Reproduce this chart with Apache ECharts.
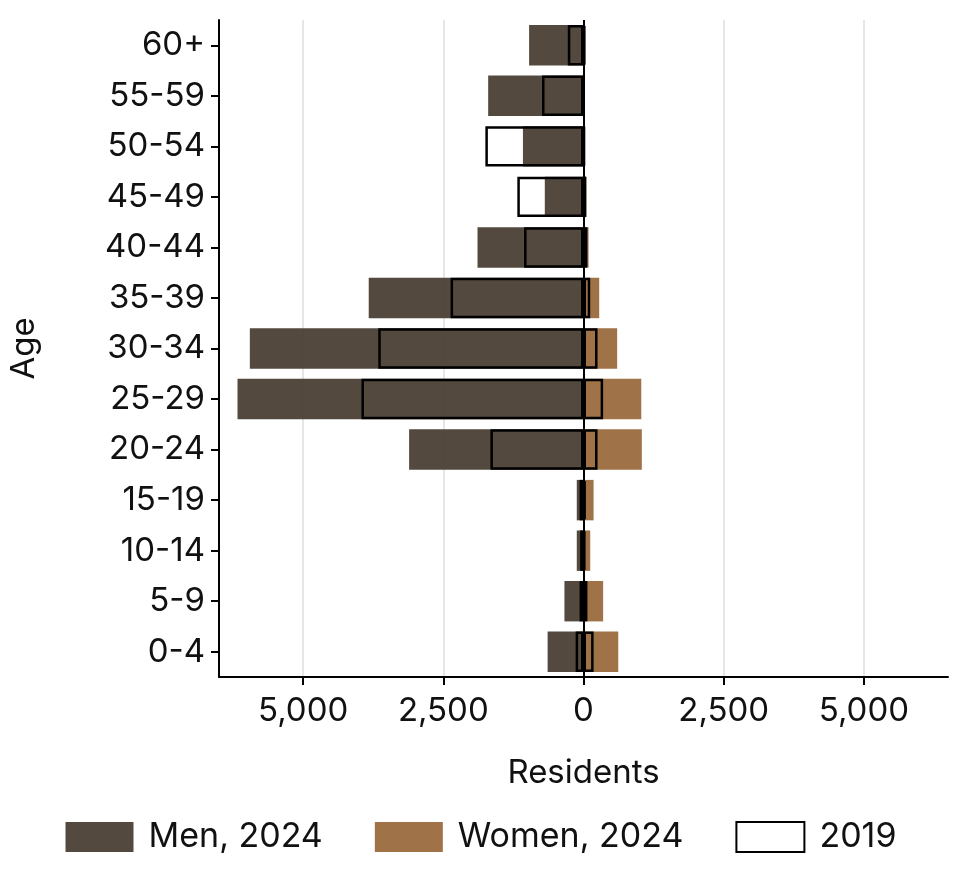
<!DOCTYPE html>
<html><head><meta charset="utf-8">
<script src="https://cdn.jsdelivr.net/npm/echarts@6/dist/echarts.min.js"></script>
<style>html,body{margin:0;padding:0;background:#fff}#c{width:962px;height:873px}</style>
</head><body><div id="c"></div>
<script>
const ages = ['0-4','5-9','10-14','15-19','20-24','25-29','30-34','35-39','40-44','45-49','50-54','55-59','60+'];
const men2024 = [640,340,120,120,3110,6170,5950,3830,1890,690,1080,1700,970];
const women2024 = [620,350,120,180,1040,1030,600,280,90,50,10,5,20];
const men2019 = [140,70,60,70,1660,3960,3660,2370,1060,1180,1750,740,280];
const women2019 = [180,70,30,40,250,350,250,120,70,50,20,10,30];
const ticks = [-5000,-2500,0,2500,5000];
const F = 'Inter, "Noto Sans", sans-serif';
const chart = echarts.init(document.getElementById('c'));
const fmt = v => Math.abs(v).toLocaleString('en-US');
chart.setOption({
  animation:false,
  grid:{left:213,right:14,top:20,bottom:196,containLabel:false},
  legend:{bottom:14,left:'center',itemWidth:68,itemHeight:30,itemGap:52,icon:'rect',
    textStyle:{fontFamily:F,fontSize:34,color:'#111',padding:[0,0,0,10]},
    data:[{name:'Men, 2024'},{name:'Women, 2024'},{name:'2019',itemStyle:{color:'#fff',borderColor:'#000',borderWidth:2}}]},
  xAxis:{type:'value',min:-6500,max:6500,interval:2500,
    name:'Residents',nameLocation:'middle',nameGap:80,nameTextStyle:{fontFamily:F,fontSize:33,color:'#111'},
    axisLine:{show:true,onZero:false,lineStyle:{color:'#000',width:2}},
    axisTick:{show:true,length:8,lineStyle:{color:'#000',width:2},customValues:ticks},
    axisLabel:{fontFamily:F,fontSize:33,color:'#111',margin:18,formatter:fmt,customValues:ticks},
    splitLine:{show:true,lineStyle:{color:'#e6e6e6',width:2}}},
  yAxis:{type:'category',data:ages,
    name:'Age',nameLocation:'middle',nameGap:178,nameRotate:90,nameTextStyle:{fontFamily:F,fontSize:33,color:'#111'},
    axisLine:{show:true,onZero:false,lineStyle:{color:'#000',width:2}},
    axisTick:{show:true,alignWithLabel:true,length:8,lineStyle:{color:'#000',width:2}},
    axisLabel:{fontFamily:F,fontSize:33,color:'#111',margin:14}},
  series:[
    {name:'Men, 2024',type:'bar',stack:'a',barWidth:'80%',data:men2024.map(v=>-v),
     itemStyle:{color:'#4a3f35',opacity:0.95},
     markLine:{silent:true,symbol:'none',label:{show:false},lineStyle:{color:'#000',width:2,type:'solid'},data:[{xAxis:0}]}},
    {name:'Women, 2024',type:'bar',stack:'a',data:women2024,itemStyle:{color:'#9a6a3e',opacity:0.95}},
    {name:'2019',type:'bar',stack:'b',barGap:'-100%',barWidth:'80%',data:men2019.map(v=>-v),
     itemStyle:{color:'rgba(0,0,0,0)',borderColor:'#000',borderWidth:2.5}},
    {name:'2019',type:'bar',stack:'b',data:women2019,
     itemStyle:{color:'rgba(0,0,0,0)',borderColor:'#000',borderWidth:2.5}}
  ]
});
</script></body></html>
